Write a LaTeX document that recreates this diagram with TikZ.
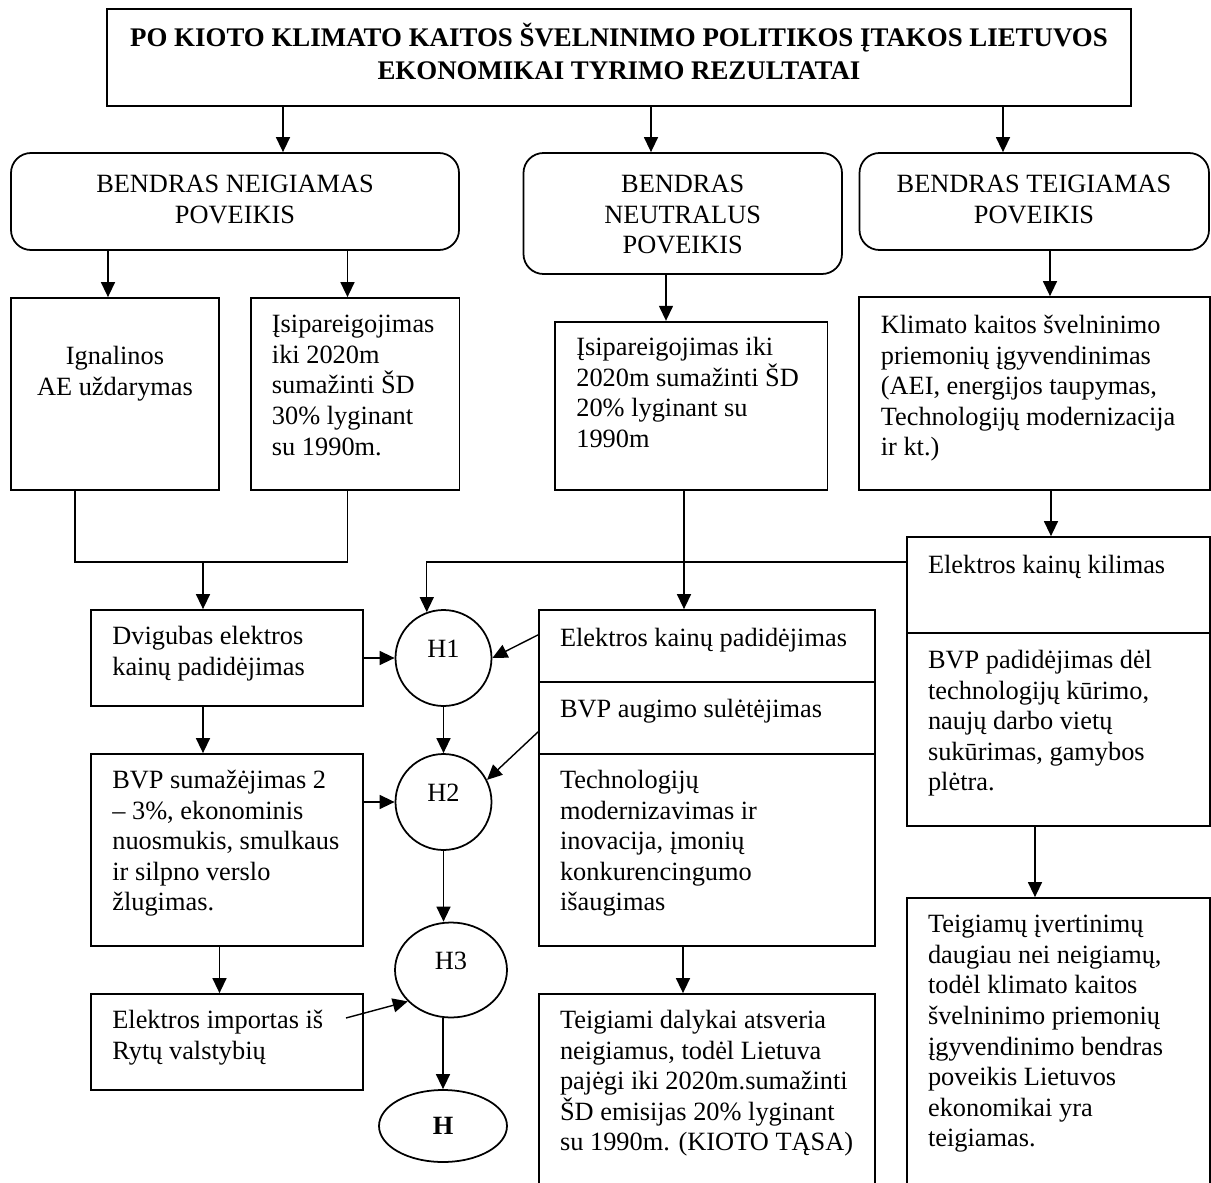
\documentclass[tikz,border=0pt]{standalone}
\usepackage{fontspec}
\setmainfont{Liberation Serif}
\usetikzlibrary{arrows.meta,shapes.geometric,fit}

\begin{document}
\begin{tikzpicture}[x=0.02cm,y=-0.02cm,
    >={Triangle[length=3mm,width=2.8mm]},
    every node/.style={font=\fontsize{15}{17.4}\selectfont},
    boxst/.style={draw,line width=1pt,inner sep=0pt,align=center},
    rboxst/.style={boxst,rounded corners=0.4cm},
    txt/.style={anchor=north west,inner sep=0pt,align=left},
    head/.style={anchor=north,inner sep=0pt,align=center},
    hyp/.style={draw,line width=1pt,ellipse,inner sep=0pt,text depth=0.36cm},
    conn/.style={line width=0.8pt}]
    \useasboundingbox (0,0) rectangle (1211,1183);
    % title and the three groups
    \node[boxst,fit={(107,9) (1131,106)}] (title) {};
    \node[rboxst,fit={(11,153) (459,250)}] (neg) {};
    \node[rboxst,fit={(523.5,153) (842,274)}] (neu) {};
    \node[rboxst,fit={(859.5,153) (1209,250)}] (pos) {};
    \node[head,font=\bfseries\fontsize{15.3}{18.4}\selectfont] (titlet) at (619,23)
      {PO KIOTO KLIMATO KAITOS ŠVELNINIMO POLITIKOS ĮTAKOS LIETUVOS\\EKONOMIKAI TYRIMO REZULTATAI};
    \node[head] (negt) at (235,175) {BENDRAS NEIGIAMAS\\POVEIKIS};
    \node[head] (neut) at (682.7,175) {BENDRAS\\NEUTRALUS\\POVEIKIS};
    \node[head] (post) at (1034,175) {BENDRAS TEIGIAMAS\\POVEIKIS};
    % boxes
    \node[boxst,fit={(11,298) (219,490)}] (ign) {};
    \node[boxst,fit={(251,298) (459.5,490)}] (isip) {};
    \node[boxst,fit={(555,321.7) (827.6,490)}] (nisip) {};
    \node[boxst,fit={(859,297) (1210,490)}] (klim) {};
    \node[boxst,fit={(91,610) (363,706)}] (dvig) {};
    \node[boxst,fit={(91,754) (363,946)}] (bvpneg) {};
    \node[boxst,fit={(91,994) (363,1090)}] (imp) {};
    \node[boxst,fit={(539,610) (875,681.7)}] (epad) {};
    \node[boxst,fit={(539,681.7) (875,754)}] (bvpaug) {};
    \node[boxst,fit={(539,754) (875,946)}] (tech) {};
    \node[boxst,fit={(539,994) (875,1200)}] (teigi) {};
    \node[boxst,fit={(907,537) (1210,633.3)}] (kil) {};
    \node[boxst,fit={(907,633.3) (1210,826)}] (bvppos) {};
    \node[boxst,fit={(907,898) (1210,1200)}] (teigm) {};
    % texts
    \node[txt,anchor=north,align=center] (ignt) at (115,346) {Ignalinos\\AE uždarymas};
    \node[txt] (isipt) at (271.6,315) {Įsipareigojimas\\iki 2020m\\sumažinti ŠD\\30\% lyginant\\su 1990m.};
    \node[txt] (nisipt) at (576,337) {Įsipareigojimas iki\\2020m sumažinti ŠD\\20\% lyginant su\\1990m};
    \node[txt] (klimt) at (880.5,315) {Klimato kaitos švelninimo\\priemonių įgyvendinimas\\(AEI, energijos taupymas,\\Technologijų modernizacija\\ir kt.)};
    \node[txt] (kilt) at (927.7,555) {Elektros kainų kilimas};
    \node[txt] (dvigt) at (112,626) {Dvigubas elektros\\kainų padidėjimas};
    \node[txt] (bvpnegt) at (112,770) {BVP sumažėjimas 2\\– 3\%, ekonominis\\nuosmukis, smulkaus\\ir silpno verslo\\žlugimas.};
    \node[txt] (epadt) at (559.7,627.7) {Elektros kainų padidėjimas};
    \node[txt] (bvpaugt) at (559.7,698.7) {BVP augimo sulėtėjimas};
    \node[txt] (techt) at (559.7,770) {Technologijų\\modernizavimas ir\\inovacija, įmonių\\konkurencingumo\\išaugimas};
    \node[txt] (bvppost) at (927.7,650) {BVP padidėjimas dėl\\technologijų kūrimo,\\naujų darbo vietų\\sukūrimas, gamybos\\plėtra.};
    \node[txt] (impt) at (112,1010) {Elektros importas iš\\Rytų valstybių};
    \node[txt] (teigit) at (559.7,1010) {Teigiami dalykai atsveria\\neigiamus, todėl Lietuva\\pajėgi iki 2020m.sumažinti\\ŠD emisijas 20\% lyginant\\su 1990m. (KIOTO TĄSA)};
    \node[txt] (teigmt) at (927.7,915) {Teigiamų įvertinimų\\daugiau nei neigiamų,\\todėl klimato kaitos\\švelninimo priemonių\\įgyvendinimo bendras\\poveikis Lietuvos\\ekonomikai yra\\teigiamas.};
    % hypotheses
    \node[hyp,minimum width=1.92cm,minimum height=1.92cm] (h1) at (443.5,658) {H1\hspace{0.18cm}};
    \node[hyp,minimum width=1.92cm,minimum height=1.92cm] (h2) at (443.5,802) {H2\hspace{0.18cm}};
    \node[hyp,minimum width=2.24cm,minimum height=1.9cm] (h3) at (451,970) {H3\hspace{0.4cm}};
    \node[hyp,text depth=,minimum width=2.56cm,minimum height=1.44cm,font=\bfseries\fontsize{15}{17.4}\selectfont] (h) at (443,1126) {H};
    \coordinate (j1) at (203,562);
    \coordinate (impstart) at (346,1018);
    % top level
    \draw[conn,->] (283,0 |- title.south) -- (283,0 |- neg.north);
    \draw[conn,->] (651,0 |- title.south) -- (651,0 |- neu.north);
    \draw[conn,->] (1003,0 |- title.south) -- (1003,0 |- pos.north);
    % negative
    \draw[conn,->] (108,0 |- neg.south) -- (108,0 |- ign.north);
    \draw[conn,->] (347.5,0 |- neg.south) -- (347.5,0 |- isip.north);
    \draw[conn] (75,0 |- ign.south) |- (j1) -| (347.5,0 |- isip.south);
    \draw[conn,->] (j1) -- (j1 |- dvig.north);
    \draw[conn,->] (dvig.east) -- (h1.west);
    \draw[conn,->] (203,0 |- dvig.south) -- (203,0 |- bvpneg.north);
    \draw[conn,->] (bvpneg.east |- h2) -- (h2.west);
    \draw[conn,->] (219.5,0 |- bvpneg.south) -- (219.5,0 |- imp.north);
    \draw[conn,->] (impstart) -- (h3.216);
    \draw[conn,->] (h1) -- (h2);
    \draw[conn,->] (h2.south) -- (h2.south |- h3.north);
    \draw[conn,->] (h.north |- h3.south) -- (h.north);
    % neutral
    \draw[conn,->] (666,0 |- neu.south) -- (666,0 |- nisip.north);
    \draw[conn,->] (684,0 |- nisip.south) -- (684,0 |- epad.north);
    \draw[conn,->] ([yshift=0.22cm]epad.west) -- (h1.east);
    \draw[conn,->] ([yshift=-0.28cm]bvpaug.west) -- (h2.27);
    \draw[conn,->] (683,0 |- tech.south) -- (683,0 |- teigi.north);
    % positive
    \draw[conn,->] (1050,0 |- pos.south) -- (1050,0 |- klim.north);
    \draw[conn,->] (1051,0 |- klim.south) -- (1051,0 |- kil.north);
    \draw[conn,->] (kil.west |- j1) -| (h1.110);
    \draw[conn,->] (1035,0 |- bvppos.south) -- (1035,0 |- teigm.north);
\end{tikzpicture}
\end{document}
